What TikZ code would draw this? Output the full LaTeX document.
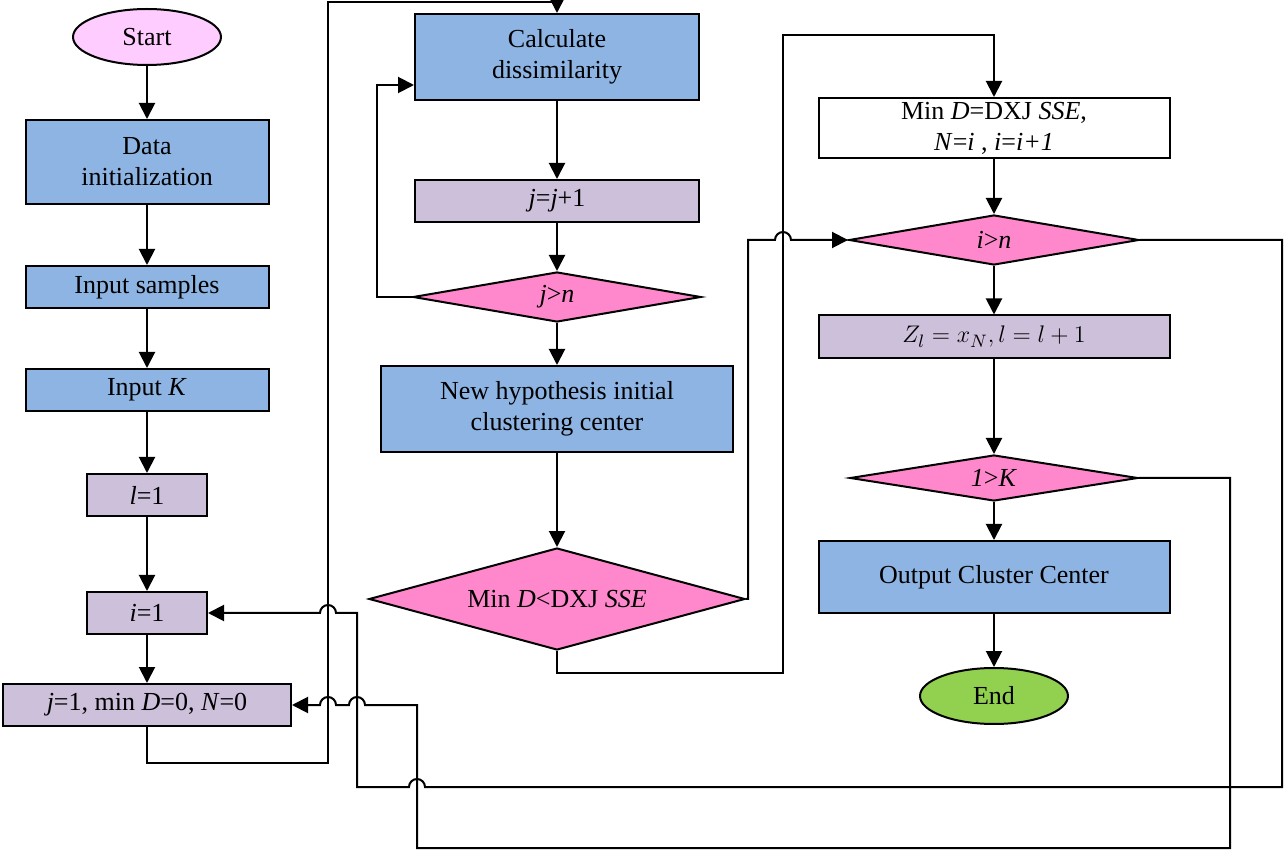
\documentclass[tikz,border=0pt]{standalone}
\usepackage{fontspec}
\setmainfont{Liberation Serif}
\usetikzlibrary{shapes.geometric, arrows.meta}
\definecolor{boxblue}{RGB}{141,180,226}
\definecolor{boxlav}{RGB}{204,192,218}
\definecolor{boxpink}{RGB}{255,136,204}
\definecolor{startpink}{RGB}{255,204,255}
\definecolor{endgreen}{RGB}{146,208,80}
\tikzset{
  step box/.style={
    draw,
    line width=1pt,
    fill=boxblue,
    align=center,
    inner sep=0pt,
  },
  var box/.style={
    step box,
    fill=boxlav,
  },
  test node/.style={
    diamond,
    draw,
    line width=1pt,
    fill=boxpink,
    inner sep=0pt,
    aspect=3.7,
  },
  term node/.style={
    ellipse,
    draw,
    line width=1pt,
    minimum width=74pt,
    minimum height=28pt,
  },
  arr/.style={line width=1pt, -{Triangle[length=8pt,width=8pt]}},
  ln/.style={line width=1pt},
}

\begin{document}
\begin{tikzpicture}[x=0.5pt, y=-0.5pt, font=\fontsize{13}{15.5}\selectfont]
      \useasboundingbox (0,0) rectangle (1287,850);
      % left column
      \node[term node, fill=startpink] (start) at (147,37) {Start};
      \node[step box, minimum width=121.5pt, minimum height=42pt] (init) at (147,162) {Data\\initialization};
      \node[step box, minimum width=121.5pt, minimum height=21pt] (samples) at (147,287) {Input samples};
      \node[step box, minimum width=121.5pt, minimum height=21pt] (inK) at (147,390) {Input \textit{K}};
      \node[var box, minimum width=60pt, minimum height=21pt] (l1) at (147,495) {\textit{l}=1};
      \node[var box, minimum width=60pt, minimum height=21pt] (i1) at (147,613) {\textit{i}=1};
      \node[var box, minimum width=144pt, minimum height=21pt] (j1) at (147,705) {\textit{j}=1, min \textit{D}=0, \textit{N}=0};

      % middle column
      \node[step box, minimum width=142pt, minimum height=43pt] (calc) at (557,57) {Calculate\\dissimilarity};
      \node[var box, minimum width=142pt, minimum height=21pt] (jinc) at (557,201) {\textit{j}=\textit{j}+1};
      \node[test node, minimum width=144pt, minimum height=25pt] (jdec) at (557,297) {\textit{j}>\textit{n}};
      \node[step box, minimum width=176pt, minimum height=43pt] (newc) at (557,409) {New hypothesis initial\\clustering center};
      \node[test node, minimum width=188pt, minimum height=51pt] (mindec) at (557,599) {Min \textit{D}<DXJ \textit{SSE}};

      % right column
      \node[step box, fill=white, minimum width=175.5pt, minimum height=30pt] (minset) at (994,128) {Min \textit{D}=DXJ \textit{SSE},\\\textit{N}=\textit{i} , \textit{i}=\textit{i+1}};
      \node[test node, minimum width=145pt, minimum height=25pt] (idec) at (994,240) {\textit{i}>\textit{n}};
      \node[var box, minimum width=175.5pt, minimum height=21.5pt] (zl) at (994,337) {$Z_l = x_N, l = l+1$};
      \node[test node, minimum width=144pt, minimum height=23pt] (kdec) at (994,478) {\textit{1}>\textit{K}};
      \node[step box, minimum width=175.5pt, minimum height=36pt] (out) at (994,577) {Output Cluster Center};
      \node[term node, fill=endgreen] (stop) at (994,696) {End};

      \draw[arr] (start) -- (init);
      \draw[arr] (init) -- (samples);
      \draw[arr] (samples) -- (inK);
      \draw[arr] (inK) -- (l1);
      \draw[arr] (l1) -- (i1);
      \draw[arr] (i1) -- (j1);
      \draw[arr] (calc) -- (jinc);
      \draw[arr] (jinc) -- (jdec);
      \draw[arr] (jdec) -- (newc);
      \draw[arr] (newc) -- (mindec);
      \draw[arr] (minset) -- (idec);
      \draw[arr] (idec) -- (zl);
      \draw[arr] (zl) -- (kdec);
      \draw[arr] (kdec) -- (out);
      \draw[arr] (out) -- (stop);

      % loops
      \draw[arr] (j1.south) -- (147,763) -- (328,763) -- (328,2) -- (557,2) -- (calc.north);
      \draw[arr] (jdec.west) -- (377,297) -- (377,85) -- (calc.west |- 377,85);
      \draw[arr] (mindec.south) -- (557,673) -- (783,673) -- (783,35) -- (994,35) -- (minset.north);
      \draw[arr] (mindec.east) -| (748,240) -- (775,240)
        arc[start angle=180, end angle=0, radius=4pt] -- (idec.west);
      \draw[arr] (idec.east) -- (1282,240) -- (1282,787) -- (425,787)
        arc[start angle=0, end angle=180, radius=4pt] -- (357,787) -- (357,613) -- (336,613)
        arc[start angle=0, end angle=180, radius=4pt] -- (i1.east);
      \draw[arr] (kdec.east) -- (1230,478) -- (1230,848) -- (417,848) -- (417,705) -- (365,705)
        arc[start angle=0, end angle=180, radius=4pt] -- (336,705)
        arc[start angle=0, end angle=180, radius=4pt] -- (j1.east);
    \end{tikzpicture}
\end{document}
